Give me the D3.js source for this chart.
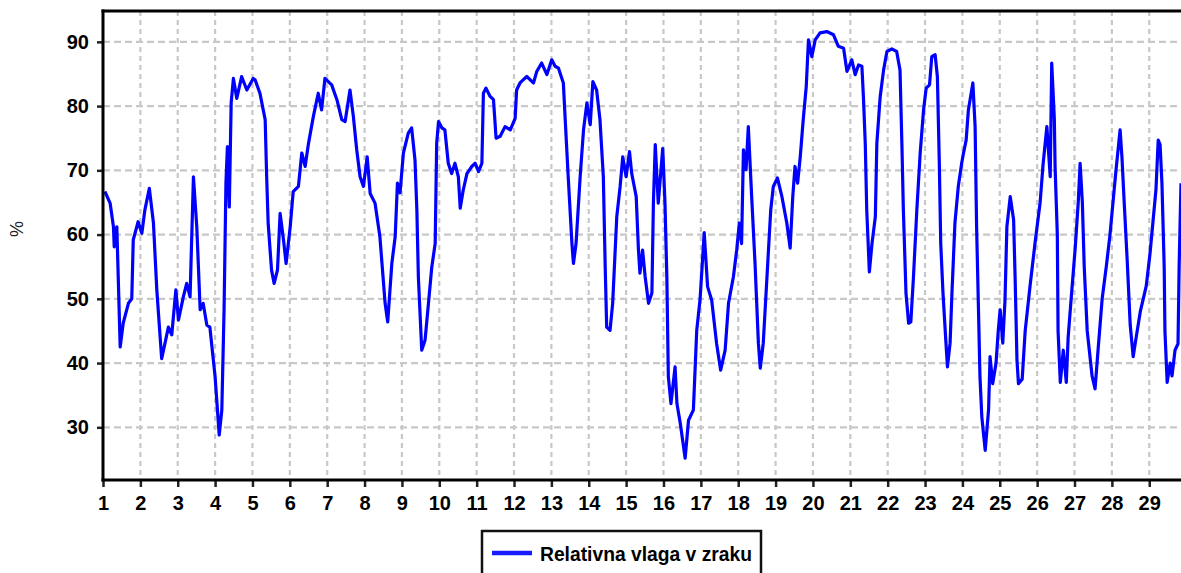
<!DOCTYPE html>
<html>
<head>
<meta charset="utf-8">
<script src="https://cdn.jsdelivr.net/npm/d3@7"></script>
<style>
    body { margin: 0; background: #fff; }
    svg { display: block; font-family: "Liberation Sans", Arial, sans-serif; }
</style>
</head>
<body>
<div id="viz"></div>
<script>
// day of month (fractional) and relative humidity in %
const days = [
    1.05, 1.19, 1.28, 1.30, 1.37, 1.46, 1.54, 1.68, 1.77, 1.81, 1.94, 2.04, 2.12, 2.24, 2.35, 2.44, 2.57, 2.66, 2.75, 2.84,
    2.95, 3.02, 3.15, 3.24, 3.33, 3.42, 3.51, 3.60, 3.68, 3.78, 3.86, 4.00, 4.11, 4.18, 4.24, 4.29, 4.33, 4.38, 4.43, 4.49,
    4.58, 4.71, 4.85, 5.02, 5.07, 5.20, 5.34, 5.38, 5.42, 5.51, 5.58, 5.67, 5.74, 5.83, 5.90, 6.01, 6.09, 6.23, 6.32, 6.41,
    6.50, 6.63, 6.76, 6.85, 6.94, 7.12, 7.26, 7.39, 7.48, 7.61, 7.70, 7.79, 7.88, 7.97, 8.07, 8.15, 8.28, 8.41, 8.55, 8.62,
    8.73, 8.82, 8.88, 8.95, 9.04, 9.17, 9.26, 9.35, 9.40, 9.44, 9.53, 9.62, 9.71, 9.80, 9.89, 9.93, 9.98, 10.07, 10.15, 10.24,
    10.33, 10.42, 10.51, 10.56, 10.64, 10.74, 10.87, 10.96, 11.05, 11.14, 11.18, 11.25, 11.36, 11.45, 11.52, 11.63, 11.76, 11.90, 12.03, 12.07,
    12.16, 12.34, 12.52, 12.61, 12.74, 12.88, 13.01, 13.10, 13.19, 13.32, 13.37, 13.45, 13.55, 13.59, 13.66, 13.77, 13.86, 13.95, 14.04, 14.11,
    14.21, 14.30, 14.39, 14.44, 14.48, 14.57, 14.64, 14.75, 14.84, 14.91, 15.00, 15.09, 15.15, 15.27, 15.33, 15.37, 15.44, 15.51, 15.60, 15.69,
    15.73, 15.78, 15.86, 15.98, 16.04, 16.09, 16.13, 16.20, 16.31, 16.36, 16.45, 16.58, 16.67, 16.80, 16.89, 16.98, 17.09, 17.18, 17.29, 17.42,
    17.53, 17.65, 17.74, 17.87, 17.96, 18.03, 18.09, 18.14, 18.21, 18.27, 18.36, 18.45, 18.54, 18.59, 18.67, 18.76, 18.81, 18.87, 18.94, 19.05,
    19.17, 19.30, 19.39, 19.46, 19.52, 19.59, 19.66, 19.74, 19.82, 19.88, 19.97, 20.06, 20.19, 20.37, 20.55, 20.68, 20.82, 20.91, 21.04, 21.13,
    21.22, 21.31, 21.35, 21.40, 21.44, 21.51, 21.58, 21.67, 21.71, 21.80, 21.89, 21.98, 22.11, 22.24, 22.33, 22.38, 22.42, 22.49, 22.56, 22.62,
    22.69, 22.78, 22.87, 22.96, 23.03, 23.12, 23.18, 23.27, 23.33, 23.38, 23.42, 23.48, 23.56, 23.60, 23.67, 23.72, 23.80, 23.89, 23.98, 24.03,
    24.10, 24.16, 24.22, 24.28, 24.34, 24.38, 24.43, 24.47, 24.52, 24.61, 24.70, 24.74, 24.81, 24.90, 24.96, 25.01, 25.08, 25.14, 25.19, 25.28,
    25.37, 25.41, 25.46, 25.50, 25.60, 25.68, 25.81, 25.95, 26.08, 26.16, 26.26, 26.35, 26.39, 26.46, 26.48, 26.54, 26.56, 26.62, 26.70, 26.78,
    26.83, 26.91, 27.02, 27.10, 27.15, 27.21, 27.26, 27.34, 27.47, 27.55, 27.63, 27.74, 27.85, 27.95, 28.03, 28.11, 28.22, 28.27, 28.33, 28.41,
    28.49, 28.57, 28.65, 28.76, 28.84, 28.92, 29.02, 29.10, 29.18, 29.24, 29.29, 29.34, 29.40, 29.42, 29.48, 29.56, 29.61, 29.69, 29.77, 29.80,
    29.85
]
const humidity = [
    66.7, 64.9, 61.2, 58.1, 61.2, 42.5, 46.2, 49.3, 50.0, 59.2, 62.0, 60.2, 63.8, 67.2, 61.8, 51.4, 40.7, 43.1, 45.6, 44.4,
    51.4, 46.7, 50.3, 52.4, 50.3, 69.0, 61.2, 48.3, 49.3, 45.9, 45.6, 37.9, 28.8, 32.7, 48.3, 68.0, 73.7, 64.3, 80.5, 84.3,
    81.2, 84.6, 82.5, 84.3, 84.1, 82.0, 77.9, 69.0, 61.8, 54.5, 52.4, 54.5, 63.3, 59.2, 55.5, 61.2, 66.7, 67.5, 72.7, 70.6,
    74.2, 78.4, 82.0, 79.4, 84.3, 83.3, 81.0, 77.9, 77.6, 82.5, 78.4, 73.2, 69.0, 67.5, 72.1, 66.4, 64.9, 59.7, 49.3, 46.4,
    55.5, 59.7, 68.0, 66.5, 72.7, 75.8, 76.6, 71.6, 63.8, 53.4, 42.0, 43.6, 49.3, 55.0, 58.6, 74.2, 77.6, 76.6, 76.3, 71.1,
    69.5, 71.1, 69.0, 64.1, 66.9, 69.5, 70.6, 71.1, 69.8, 71.1, 82.0, 82.8, 81.5, 81.0, 75.0, 75.3, 76.8, 76.3, 78.1, 82.5,
    83.6, 84.6, 83.6, 85.4, 86.7, 84.9, 87.2, 86.2, 85.9, 83.6, 77.9, 69.0, 58.6, 55.5, 58.6, 69.0, 76.3, 80.5, 77.1, 83.8,
    82.5, 77.9, 69.0, 55.0, 45.6, 45.1, 49.3, 62.8, 67.5, 72.1, 69.0, 72.9, 69.5, 65.9, 57.6, 54.0, 57.6, 53.4, 49.3, 50.9,
    64.9, 74.0, 64.9, 73.4, 64.9, 53.4, 37.9, 33.7, 39.4, 33.7, 30.6, 25.2, 31.1, 32.7, 45.1, 50.0, 60.3, 51.9, 49.8, 43.1,
    38.9, 42.0, 49.3, 53.4, 57.6, 61.8, 58.6, 73.2, 70.1, 76.8, 65.9, 55.5, 43.1, 39.2, 43.1, 52.4, 57.6, 63.8, 67.5, 68.8,
    65.9, 61.8, 57.9, 65.9, 70.6, 68.0, 72.1, 77.9, 83.0, 90.3, 87.7, 90.3, 91.4, 91.6, 91.1, 89.3, 89.0, 85.4, 87.2, 84.9,
    86.4, 86.2, 81.5, 74.2, 63.8, 54.2, 58.6, 62.8, 74.2, 81.5, 85.6, 88.5, 88.9, 88.5, 85.6, 74.2, 63.8, 50.9, 46.2, 46.4,
    53.4, 63.8, 72.7, 79.4, 82.8, 83.3, 87.7, 88.0, 84.6, 71.6, 58.6, 50.9, 43.1, 39.4, 43.1, 50.9, 61.8, 67.5, 71.1, 72.7,
    74.7, 79.4, 81.5, 83.6, 76.8, 61.2, 48.3, 37.9, 31.6, 26.4, 32.7, 41.0, 36.8, 40.0, 45.1, 48.3, 43.1, 49.8, 61.2, 65.9,
    62.3, 53.4, 40.5, 36.8, 37.5, 45.0, 52.0, 59.0, 65.0, 71.0, 76.8, 69.0, 86.7, 78.0, 70.6, 60.0, 45.0, 37.0, 42.0, 37.0,
    44.0, 50.0, 58.0, 65.0, 71.1, 65.0, 55.0, 45.0, 38.0, 36.0, 42.0, 50.0, 55.0, 60.0, 65.0, 70.0, 76.3, 72.0, 65.0, 56.0,
    46.0, 41.0, 44.0, 48.0, 50.0, 52.0, 57.0, 62.0, 67.0, 74.7, 74.0, 68.0, 55.0, 45.0, 37.0, 40.0, 38.0, 42.0, 43.0, 55.0,
    68.0
]
const yTicks = [30, 40, 50, 60, 70, 80, 90]
const xTicks = d3.range(1, 30)
const yDomain = [21.8, 94.8]
const xDomain = [1, 29.85]
const seriesName = "Relativna vlaga v zraku"
const yLabel = "%"

const W = 1181, H = 573
const mLeft = 103, mTop = 11, mBottom = 480, mRight = 1181

const svg = d3.select("#viz").append("svg").attr("width", W).attr("height", H)

const x = d3.scaleLinear().domain(xDomain).range([mLeft, mRight])
const y = d3.scaleLinear().domain(yDomain).range([mBottom, mTop])

// grid
const grid = svg.append("g").attr("stroke", "#c8c8c8").attr("stroke-width", 2.2)
grid.selectAll(".vg")
    .data(xTicks.slice(1))
    .join("line")
    .attr("x1", d => x(d)).attr("x2", d => x(d))
    .attr("y1", mTop).attr("y2", mBottom)
    .attr("stroke-dasharray", "5,4")
grid.selectAll(".hg")
    .data(yTicks)
    .join("line")
    .attr("x1", mLeft).attr("x2", mRight)
    .attr("y1", d => y(d)).attr("y2", d => y(d))
    .attr("stroke-dasharray", "7,4")

// series
const line = d3.line().x(d => x(d[0])).y(d => y(d[1]))
svg.append("path")
    .datum(d3.zip(days, humidity))
    .attr("d", line)
    .attr("fill", "none")
    .attr("stroke", "#0000ff")
    .attr("stroke-width", 3.2)
    .attr("stroke-linejoin", "round")

// axes
svg.append("g")
    .attr("transform", `translate(${mLeft},0)`)
    .call(d3.axisLeft(y).tickValues(yTicks).tickSize(6).tickPadding(8))
svg.append("g")
    .attr("transform", `translate(0,${mBottom})`)
    .call(d3.axisBottom(x).tickValues(xTicks).tickSize(7).tickPadding(9))

svg.selectAll(".domain").remove()
svg.selectAll(".tick line").attr("stroke", "#222").attr("stroke-width", 2.5)
svg.selectAll(".tick text")
    .attr("fill", "#000")
    .style("font-size", "20px")
    .style("font-weight", "bold")
    .style("font-family", "'Liberation Sans', Arial, sans-serif")

// frame
const frame = svg.append("g").attr("stroke", "#000").attr("stroke-width", 3)
frame.append("line").attr("x1", mLeft).attr("x2", mLeft).attr("y1", mTop - 1.5).attr("y2", mBottom + 1.5)
frame.append("line").attr("x1", mLeft - 1.5).attr("x2", mRight).attr("y1", mBottom).attr("y2", mBottom)
frame.append("line").attr("x1", mLeft - 1.5).attr("x2", mRight).attr("y1", mTop).attr("y2", mTop)

svg.append("text")
    .attr("transform", `translate(23,229) rotate(-90)`)
    .attr("text-anchor", "middle")
    .style("font-size", "18px")
    .attr("fill", "#222")
    .text(yLabel)

// legend
const lg = svg.append("g").attr("transform", "translate(482,531)")
lg.append("rect")
    .attr("width", 279).attr("height", 60)
    .attr("fill", "#fff").attr("stroke", "#111").attr("stroke-width", 2.5)
lg.append("line")
    .attr("x1", 10).attr("x2", 50).attr("y1", 22).attr("y2", 22)
    .attr("stroke", "#1a1aff").attr("stroke-width", 4.5)
lg.append("text")
    .attr("x", 58).attr("y", 30)
    .attr("textLength", 212).attr("lengthAdjust", "spacingAndGlyphs")
    .style("font-size", "21px").style("font-weight", "bold")
    .attr("fill", "#000")
    .text(seriesName)
</script>
</body>
</html>
